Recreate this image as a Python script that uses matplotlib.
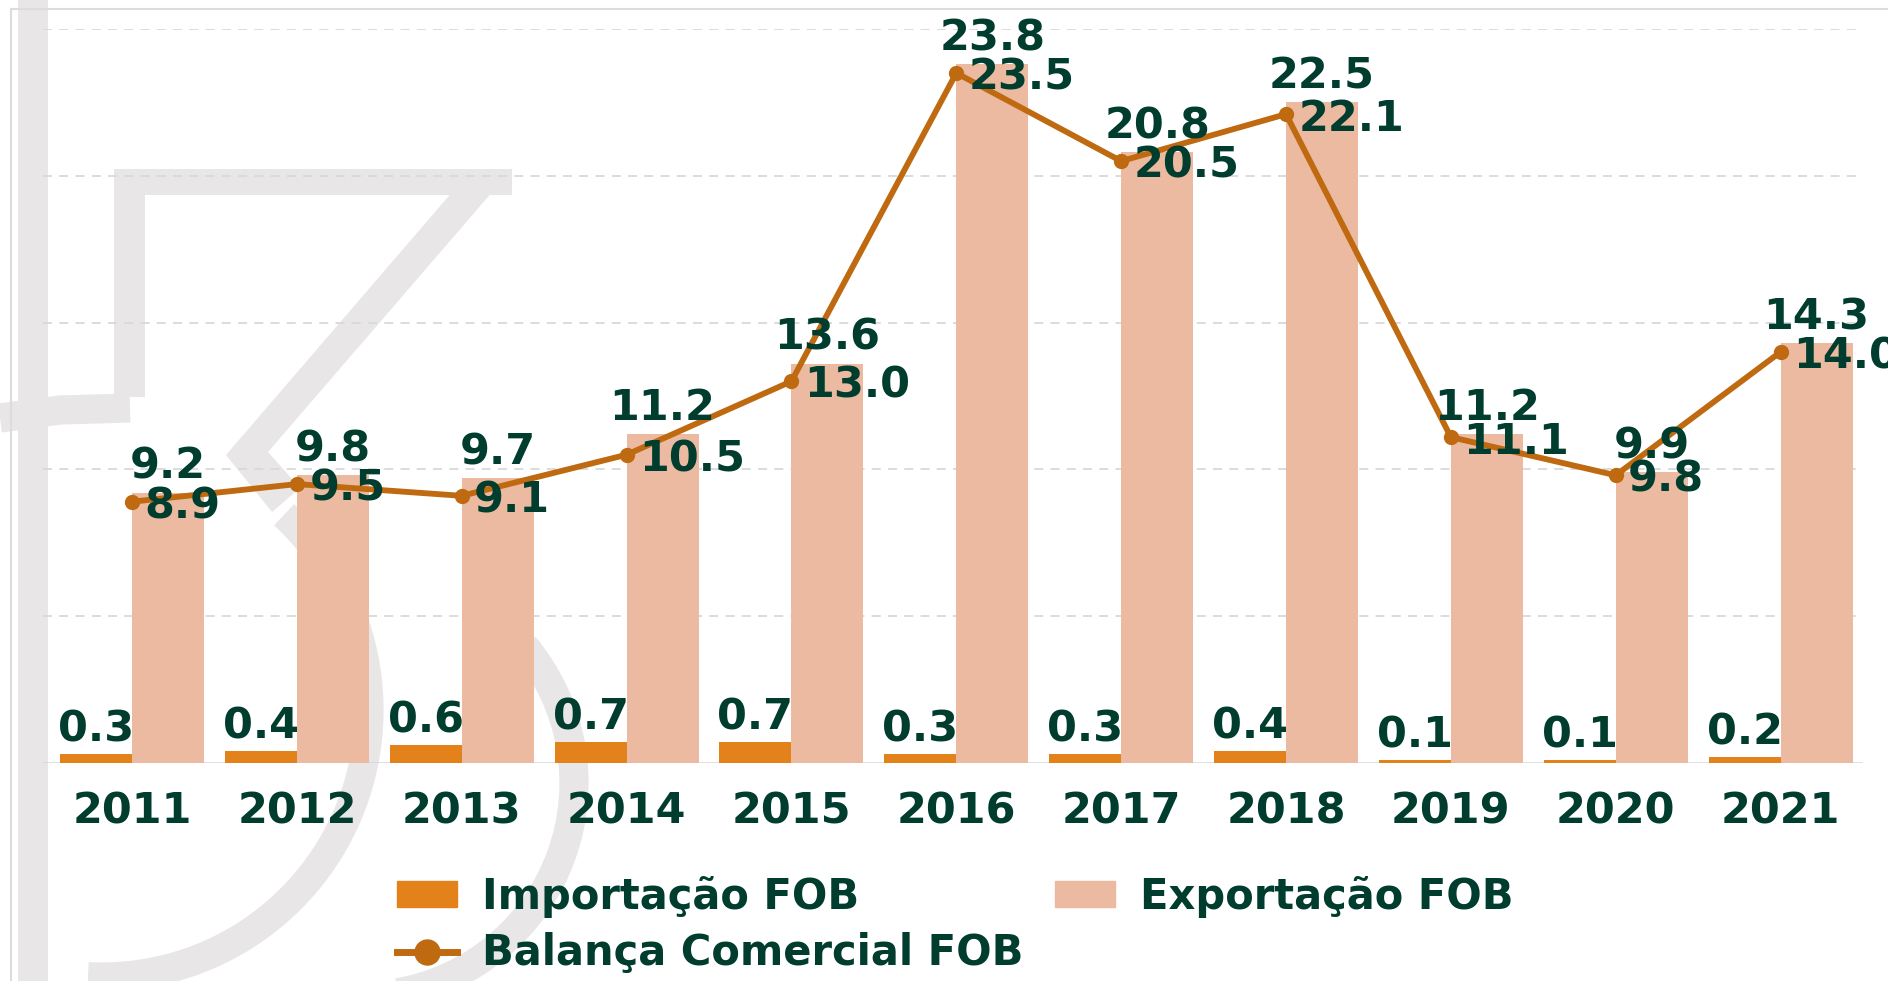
import numpy as np
import matplotlib.pyplot as plt
from matplotlib.patches import Rectangle, Polygon, Arc
from matplotlib.lines import Line2D

# dados (US$ bilhões)
anos = ['2011', '2012', '2013', '2014', '2015', '2016', '2017', '2018', '2019', '2020', '2021']
importacao = [0.3, 0.4, 0.6, 0.7, 0.7, 0.3, 0.3, 0.4, 0.1, 0.1, 0.2]
exportacao = [9.2, 9.8, 9.7, 11.2, 13.6, 23.8, 20.8, 22.5, 11.2, 9.9, 14.3]
balanca = [8.9, 9.5, 9.1, 10.5, 13.0, 23.5, 20.5, 22.1, 11.1, 9.8, 14.0]

c_imp = '#e3821a'
c_exp = '#ebbaa0'
c_bal = '#bf6a10'
c_txt = '#003d2e'
c_wm = '#e8e6e6'
fs = 31

fig = plt.figure(figsize=(18.88, 9.81), dpi=100)

# fundo: marca d'agua em coordenadas de pixel (eixo y invertido)
bg = fig.add_axes([0, 0, 1, 1], zorder=-1)
bg.set_xlim(0, 1888)
bg.set_ylim(981, 0)
bg.axis('off')
bg.add_patch(Rectangle((18, 0), 30, 981, color=c_wm, lw=0))
bg.add_patch(Rectangle((114, 169), 398, 26, color=c_wm, lw=0))
bg.add_patch(Rectangle((114, 169), 31, 228, color=c_wm, lw=0))
bg.add_patch(Polygon([(472, 169), (512, 169), (268, 452), (300, 488), (272, 512), (226, 455)],
                     closed=True, color=c_wm, lw=0))
bg.add_patch(Arc((102, 710), 534, 534, theta1=-47, theta2=93, color=c_wm, lw=21))
bg.plot([0, 60, 130], [418, 410, 408], color=c_wm, lw=21, solid_capstyle='butt')
bg.add_patch(Arc((361, 783), 426, 426, theta1=-40, theta2=80, color=c_wm, lw=21))
bg.plot([11, 1888], [9, 9], color='#dcdcdc', lw=1.5)
bg.plot([11, 11], [9, 981], color='#dcdcdc', lw=1.5)

ax = fig.add_axes([43 / 1888, 218 / 981, 1820 / 1888, 734 / 981])
ax.patch.set_alpha(0)
x = np.arange(len(anos))
w = 0.437
ax.bar(x - w / 2, importacao, w, color=c_imp, zorder=2)
ax.bar(x + w / 2, exportacao, w, color=c_exp, zorder=2)
ax.plot(x, balanca, color=c_bal, lw=4.2, marker='o', markersize=10, zorder=3)

for xi, v in zip(x, importacao):
    ax.annotate(f'{v:.1f}', (xi - w / 2, v), xytext=(0, 9), textcoords='offset points',
                ha='center', va='baseline', fontsize=fs, fontweight='bold', color=c_txt, zorder=5)
for xi, v in zip(x, exportacao):
    ax.annotate(f'{v:.1f}', (xi + w / 2, v), xytext=(0, 10), textcoords='offset points',
                ha='center', va='baseline', fontsize=fs, fontweight='bold', color=c_txt,
                zorder=5, annotation_clip=False)
for xi, v in zip(x, balanca):
    ax.annotate(f'{v:.1f}', (xi, v), xytext=(9, 0), textcoords='offset points',
                ha='left', va='center_baseline', fontsize=fs, fontweight='bold', color=c_txt,
                zorder=5, annotation_clip=False)

ax.set_xlim(-0.54, 10.5)
ax.set_ylim(0, 25)
ax.set_yticks([5, 10, 15, 20, 25])
ax.yaxis.grid(True, color='#d9d9d9', ls=(0, (5, 4)), lw=1.3, zorder=0)
ax.axhline(0, color='#d6d6d6', lw=1.8, zorder=1)
ax.set_xticks(x)
ax.set_xticklabels(anos, fontsize=fs, fontweight='bold', color=c_txt)
ax.tick_params(axis='x', length=0, pad=20)
ax.tick_params(axis='y', length=0, labelleft=False)
for s in ax.spines.values():
    s.set_visible(False)

h_imp = Rectangle((0, 0), 1, 1, color=c_imp)
h_exp = Rectangle((0, 0), 1, 1, color=c_exp)
h_bal = Line2D([], [], color=c_bal, lw=5, marker='o', markersize=18)
fig.legend([h_imp, h_bal, h_exp], ['Importação FOB', 'Balança Comercial FOB', 'Exportação FOB'],
           ncol=2, loc='center', bbox_to_anchor=(0.506, 0.057), frameon=False,
           prop={'size': 30, 'weight': 'bold'}, labelcolor=c_txt,
           handlelength=1.45, handleheight=0.55, handletextpad=0.6, columnspacing=0.75,
           labelspacing=0.35)

fig.savefig('out.png', dpi=100)
